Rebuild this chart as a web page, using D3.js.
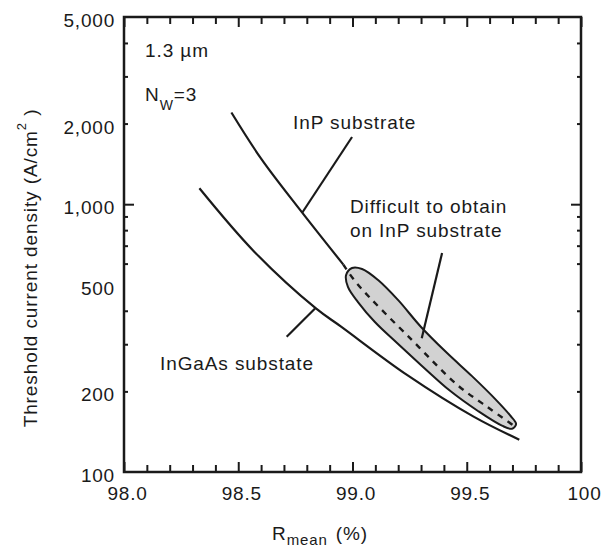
<!DOCTYPE html>
<html>
<head>
<meta charset="utf-8">
<script src="https://cdn.jsdelivr.net/npm/d3@7"></script>
<style>
  body { margin: 0; background: #fff; }
  text { font-family: "Liberation Sans", Arial, Helvetica, sans-serif; fill: #1a1a1a; }
</style>
</head>
<body>
<svg id="chart" width="616" height="551"></svg>
<script>
// Axis ticks
const xMajorTicks = [98.0, 98.5, 99.0, 99.5, 100];
const xMinorTicks = [98.1, 98.2, 98.3, 98.4, 98.6, 98.7, 98.8, 98.9,
                     99.1, 99.2, 99.3, 99.4, 99.6, 99.7, 99.8, 99.9];
const yLabelTicks = [100, 200, 500, 1000, 2000, 5000];
const yMajorTicks = [1000];
const yMinorTicks = [200, 300, 400, 600, 700, 800, 900, 2000, 3000, 4000];

// Threshold current density vs. mean mirror reflectivity
const inpSolidR = [98.47, 98.60, 98.78, 98.96];
const inpSolidJ = [2200, 1480, 930, 595];
const inpDashedR = [98.96, 99.02, 99.26, 99.46, 99.59, 99.70];
const inpDashedJ = [595, 505, 311, 211, 175, 150];
const ingaasR = [98.33, 98.57, 98.84, 98.95, 99.24, 99.53, 99.73];
const ingaasJ = [1147, 665, 408, 349, 230, 161, 132];

// Region that is hard to reach on an InP substrate (closed outline)
const regionR = [98.972, 98.998, 99.042, 99.112, 99.199, 99.300, 99.414, 99.523, 99.628, 99.689, 99.716,
                 99.698, 99.654, 99.549, 99.427, 99.304, 99.195, 99.098, 99.024, 98.980];
const regionJ = [544, 578, 573, 521, 439, 348, 278, 228, 186, 163, 151,
                 145, 149, 169, 201, 249, 303, 363, 431, 491];

// Leader lines from the labels to the curves
const leaderInP = [[98.998, 1782], [98.779, 927]];
const leaderRegion = [[99.392, 657], [99.303, 316]];
const leaderInGaAs = [[98.712, 320], [98.836, 408]];

const W = 616, H = 551;
const margin = { left: 124, top: 17, right: 35, bottom: 79 };
const iw = W - margin.left - margin.right;
const ih = H - margin.top - margin.bottom;

const svg = d3.select("#chart");
const g = svg.append("g").attr("transform", `translate(${margin.left},${margin.top})`);

const x = d3.scaleLinear().domain([98, 100]).range([0, iw]);
const y = d3.scaleLog().domain([100, 5000]).range([ih, 0]);

const ink = "#1a1a1a";
const toPts = (rs, js) => rs.map((r, i) => [r, js[i]]);
const line = d3.line().x(d => x(d[0])).y(d => y(d[1])).curve(d3.curveCatmullRom.alpha(0.5));

// shaded region
g.append("path")
  .datum(toPts(regionR, regionJ))
  .attr("d", d3.line().x(d => x(d[0])).y(d => y(d[1])).curve(d3.curveCatmullRomClosed.alpha(0.5)))
  .attr("fill", "#d2d2d2")
  .attr("stroke", ink)
  .attr("stroke-width", 2);

// InP substrate curve
g.append("path").datum(toPts(inpSolidR, inpSolidJ))
  .attr("d", line).attr("fill", "none").attr("stroke", ink).attr("stroke-width", 2.2);
g.append("path").datum(toPts(inpDashedR, inpDashedJ))
  .attr("d", line).attr("fill", "none").attr("stroke", ink).attr("stroke-width", 2.4)
  .attr("stroke-dasharray", "6,6");

// InGaAs substrate curve
g.append("path").datum(toPts(ingaasR, ingaasJ))
  .attr("d", line).attr("fill", "none").attr("stroke", ink).attr("stroke-width", 2.2);

// leaders
const straight = d3.line().x(d => x(d[0])).y(d => y(d[1]));
[leaderInP, leaderRegion, leaderInGaAs].forEach(l => {
  g.append("path").datum(l).attr("d", straight)
    .attr("fill", "none").attr("stroke", ink).attr("stroke-width", 2.2);
});

// ticks (inward, on all four sides)
function styleAxis(sel) {
  sel.select(".domain").remove();
  sel.selectAll(".tick line").attr("stroke", ink).attr("stroke-width", 2);
}
g.append("g").attr("transform", `translate(0,${ih})`)
  .call(d3.axisBottom(x).tickValues(xMinorTicks).tickSize(-7).tickFormat(""))
  .call(styleAxis);
g.append("g")
  .call(d3.axisTop(x).tickValues(xMinorTicks).tickSize(-7).tickFormat(""))
  .call(styleAxis);
g.append("g")
  .call(d3.axisTop(x).tickValues(xMajorTicks).tickSize(-10).tickFormat(""))
  .call(styleAxis);

const xAxis = g.append("g").attr("transform", `translate(0,${ih})`)
  .call(d3.axisBottom(x).tickValues(xMajorTicks).tickSize(-10).tickPadding(15)
    .tickFormat(d => d === 100 ? "100" : d.toFixed(1)))
  .call(styleAxis);
xAxis.selectAll("text")
  .attr("font-size", 19).attr("letter-spacing", 0.8)
  .attr("font-family", "Liberation Sans, Arial, sans-serif")
  .attr("fill", ink).attr("dx", 3);

[[d3.axisLeft, 0], [d3.axisRight, iw]].forEach(([ax, tx]) => {
  g.append("g").attr("transform", `translate(${tx},0)`)
    .call(ax(y).tickValues(yMinorTicks).tickSize(-4).tickFormat(""))
    .call(styleAxis);
  g.append("g").attr("transform", `translate(${tx},0)`)
    .call(ax(y).tickValues(yMajorTicks).tickSize(-10).tickFormat(""))
    .call(styleAxis);
});

const yAxis = g.append("g")
  .call(d3.axisLeft(y).tickValues(yLabelTicks).tickSize(0).tickPadding(9)
    .tickFormat(d3.format(",")))
  .call(s => s.select(".domain").remove());
yAxis.selectAll("text")
  .attr("font-size", 19).attr("letter-spacing", 0.8)
  .attr("font-family", "Liberation Sans, Arial, sans-serif")
  .attr("fill", ink).attr("dy", "0.5em");

// frame
g.append("rect").attr("x", 0).attr("y", 0).attr("width", iw).attr("height", ih)
  .attr("fill", "none").attr("stroke", ink).attr("stroke-width", 2.5);

// text labels
const fs = 19, ls = 0.9;
function label(px, py, str) {
  return svg.append("text").attr("x", px).attr("y", py)
    .attr("font-size", fs).attr("letter-spacing", ls).text(str);
}
label(145, 57, "1.3 µm");
const nw = svg.append("text").attr("x", 145).attr("y", 101)
  .attr("font-size", fs).attr("letter-spacing", ls);
nw.append("tspan").text("N");
nw.append("tspan").attr("font-size", 14).attr("dy", 9).text("W");
nw.append("tspan").attr("dy", -9).text("=3");

label(293, 129, "InP substrate");
label(350, 213, "Difficult to obtain");
label(350, 237, "on InP substrate");
label(160, 370, "InGaAs substate");

// x title
const xt = svg.append("text").attr("x", 272).attr("y", 540)
  .attr("font-size", fs).attr("letter-spacing", ls);
xt.append("tspan").text("R");
xt.append("tspan").attr("font-size", 15).attr("dy", 5).text("mean");
xt.append("tspan").attr("dy", -5).attr("dx", 8).text("(%)");

// y title
const yt = svg.append("text")
  .attr("transform", "translate(37,268) rotate(-90)")
  .attr("text-anchor", "middle")
  .attr("font-size", fs).attr("letter-spacing", ls);
yt.append("tspan").text("Threshold current density  (A/cm");
yt.append("tspan").attr("font-size", 13).attr("dy", -11).text("2");
yt.append("tspan").attr("dy", 11).text(" )");
</script>
</body>
</html>
